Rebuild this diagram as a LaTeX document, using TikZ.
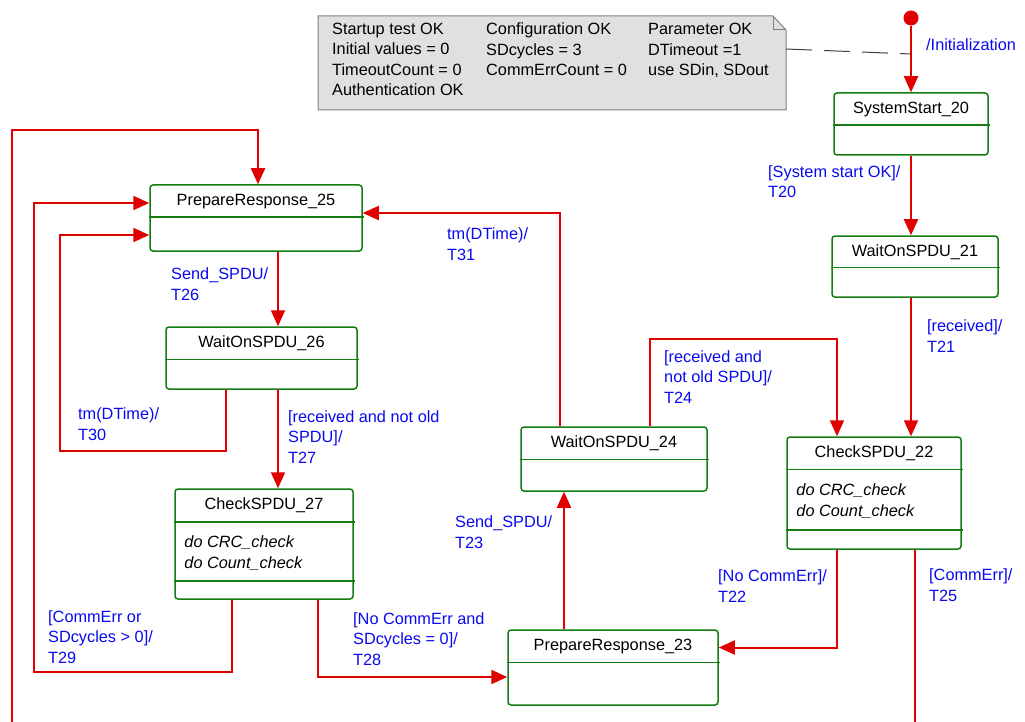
\documentclass[tikz,border=0pt]{standalone}
\usepackage{fontspec}
\setmainfont{Liberation Sans}
\usepackage{tikz}
\usetikzlibrary{arrows.meta, positioning, calc}

\definecolor{transred}{RGB}{224,0,0}
\definecolor{stategreen}{RGB}{20,125,20}
\definecolor{labelblue}{RGB}{10,10,240}
\definecolor{notegray}{RGB}{224,224,224}

\tikzset{
  state/.style={draw=stategreen, line width=1.5pt, rounded corners=3pt, inner sep=0pt},
  divider/.style={draw=stategreen, line width=1.5pt},
  stitle/.style={anchor=base, inner sep=0pt, font=\fontsize{16.3}{20}\selectfont},
  sbody/.style={anchor=base west, inner sep=0pt, align=left, font=\fontsize{16.3}{21.5}\selectfont\itshape},
  trans/.style={draw=transred, line width=2pt, -{Triangle[length=16pt, width=14pt]}},
  transline/.style={draw=transred, line width=2pt},
  guard/.style={anchor=base west, inner sep=0pt, align=left, text=labelblue, font=\fontsize{16.3}{20.5}\selectfont},
  notetext/.style={anchor=base west, inner sep=0pt, align=left, font=\fontsize{16.3}{20.5}\selectfont},
  notelink/.style={draw=black!75, line width=1pt, dash pattern=on 26pt off 12pt},
}

\begin{document}
\begin{tikzpicture}[x=1pt, y=-1pt]
  \fill[white] (0,0) rectangle (1025,722);
  \useasboundingbox (0,0) rectangle (1025,722);

  % note with folded corner
  % (multi-line texts below sit on the baseline of their last line)
  \draw[draw=black!50, fill=notegray, line width=1pt]
    (318,16) -- (773,16) -- (786,30) -- (786,110) -- (318,110) -- cycle;
  \draw[black!50, line width=1pt] (773,16) -- (773,30) -- (786,30);
  \node[notetext] (n1) at (332,96) {Startup test OK\\Initial values = 0\\TimeoutCount = 0\\Authentication OK};
  \node[notetext] (n2) at (486,76) {Configuration OK\\SDcycles = 3\\CommErrCount = 0};
  \node[notetext] (n3) at (648,76) {Parameter OK\\DTimeout =1\\use SDin, SDout};
  \coordinate (noteport) at (786,49);

  % initial state
  \node[circle, fill=transred, minimum size=15pt, inner sep=0pt] (init) at (911,18) {};
  \coordinate (initmid) at (911,54);

  % states
  \node[state, minimum width=154pt, minimum height=62pt]  (s20) at (911,124) {};
  \node[state, minimum width=166pt, minimum height=61pt]  (s21) at (915,266.5) {};
  \node[state, minimum width=174pt, minimum height=112pt] (s22) at (874,493) {};
  \node[state, minimum width=210pt, minimum height=75pt]  (s23) at (613,667.5) {};
  \node[state, minimum width=186pt, minimum height=64pt]  (s24) at (614,459) {};
  \node[state, minimum width=212pt, minimum height=66pt]  (s25) at (256,218) {};
  \node[state, minimum width=191pt, minimum height=62pt]  (s26) at (261.5,358) {};
  \node[state, minimum width=178pt, minimum height=110pt] (s27) at (264,544) {};

  \foreach \s/\d in {s20/33, s21/32, s22/33, s22/93.5, s23/33, s24/33, s25/33, s26/33, s27/33.7, s27/92.7}
    \draw[divider] ([yshift=-\d pt]\s.north west) -- ([yshift=-\d pt, xshift=1pt]\s.north east);

  \node[stitle] (s20t) at ([yshift=-21pt]s20.north) {SystemStart\_20};
  \node[stitle] (s21t) at ([yshift=-21pt]s21.north) {WaitOnSPDU\_21};
  \node[stitle] (s22t) at ([yshift=-21pt]s22.north) {CheckSPDU\_22};
  \node[stitle] (s23t) at ([yshift=-21pt]s23.north) {PrepareResponse\_23};
  \node[stitle] (s24t) at ([yshift=-21pt]s24.north) {WaitOnSPDU\_24};
  \node[stitle] (s25t) at ([yshift=-21pt]s25.north) {PrepareResponse\_25};
  \node[stitle] (s26t) at ([yshift=-21pt]s26.north) {WaitOnSPDU\_26};
  \node[stitle] (s27t) at ([yshift=-21pt]s27.north) {CheckSPDU\_27};

  \node[sbody] (s22b) at ([xshift=10pt, yshift=-80.5pt]s22.north west) {do CRC\_check\\do Count\_check};
  \node[sbody] (s27b) at ([xshift=10pt, yshift=-80.5pt]s27.north west) {do CRC\_check\\do Count\_check};

  % transitions
  \draw[notelink] (noteport) -- (initmid);
  \draw[trans] (init.south) -- (s20.north);
  \draw[trans] (s20.south) -- (s20.south |- s21.north);
  \draw[trans] (s21.south -| s20.south) -- (s22.north -| s20.south);
  \draw[trans] ([xshift=36pt]s24.north) -- ++(0,-87) -| ([xshift=-37pt]s22.north);
  \draw[trans] ([xshift=-37pt]s22.south) |- ([yshift=20pt]s23.east);
  \coordinate (t25out) at (915,722);
  \coordinate (t25in) at (12,722);
  \draw[transline] (s22.south -| t25out) -- (t25out);
  \draw[trans] (t25in) |- ([xshift=2pt, yshift=54pt]s25.north) -- ([xshift=2pt]s25.north);
  \draw[trans] ([xshift=-49pt]s23.north) -- ([xshift=-49pt]s23.north |- s24.south);
  \draw[trans] ([xshift=-54pt]s24.north) |- ([yshift=5pt]s25.east);
  \draw[trans] ([xshift=22pt]s25.south) -- ([xshift=22pt]s25.south |- s26.north);
  \draw[trans] ([xshift=22pt]s25.south |- s26.south) -- ([xshift=22pt]s25.south |- s27.north);
  \coordinate (t30) at (60,451);
  \draw[trans] ([xshift=-35.5pt]s26.south) |- (t30) |- ([yshift=-17pt]s25.west);
  \coordinate (t29) at (34,672);
  \draw[trans] ([xshift=-32pt]s27.south) |- (t29) |- ([yshift=15pt]s25.west);
  \draw[trans] ([xshift=54pt]s27.south) |- ([yshift=-9.5pt]s23.west);

  % guards and actions
  \node[guard] (g0)  at (926,51)  {/Initialization};
  \node[guard] (g20) at (768,198) {[System start OK]/\\T20};
  \node[guard] (g21) at (927,352) {[received]/\\T21};
  \node[guard] (g24) at (664,403) {[received and\\not old SPDU]/\\T24};
  \node[guard] (g22) at (718,602) {[No CommErr]/\\T22};
  \node[guard] (g25) at (929,601) {[CommErr]/\\T25};
  \node[guard] (g23) at (455,548) {Send\_SPDU/\\T23};
  \node[guard] (g31) at (447,260) {tm(DTime)/\\T31};
  \node[guard] (g26) at (171,300) {Send\_SPDU/\\T26};
  \node[guard] (g30) at (78,440)  {tm(DTime)/\\T30};
  \node[guard] (g27) at (288,463) {[received and not old\\SPDU]/\\T27};
  \node[guard] (g29) at (48,663)  {[CommErr or\\SDcycles > 0]/\\T29};
  \node[guard] (g28) at (353,665) {[No CommErr and\\SDcycles = 0]/\\T28};
\end{tikzpicture}
\end{document}
